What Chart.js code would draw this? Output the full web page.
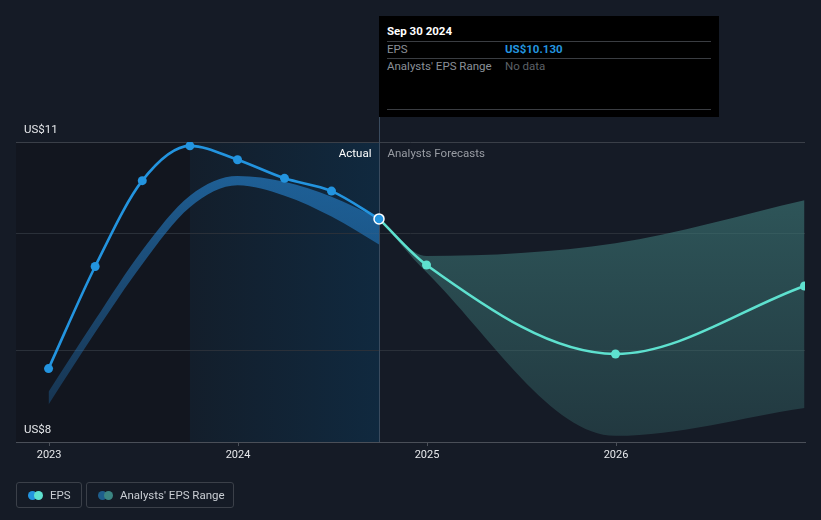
<!DOCTYPE html>
<html>
<head>
<meta charset="utf-8">
<script src="https://cdn.jsdelivr.net/npm/chart.js@4.4.1/dist/chart.umd.min.js"></script>
<style>
  body { margin: 0; background: #151b26; font-family: Roboto, "Noto Sans", sans-serif; }
  #wrap { position: relative; width: 821px; height: 520px; }
  #tip { position: absolute; left: 379px; top: 16px; width: 340px; height: 101px; background: #000; }
  #tip .t { position: absolute; left: 8px; font-size: 11.5px; line-height: 14px; white-space: nowrap; }
  #tip .hr { position: absolute; left: 8px; width: 324px; height: 1px; background: #3a3d42; }
  .lg { position: absolute; top: 482px; height: 26px; border: 1px solid #3b4049; border-radius: 3px; box-sizing: border-box; }
  .lg .dot { position: absolute; top: 8px; width: 9px; height: 9px; border-radius: 50%; }
  .lg .lab { position: absolute; top: 5px; font-size: 11.5px; color: #c9cdd3; white-space: nowrap; }
</style>
</head>
<body>
<div id="wrap">
  <canvas id="c" width="821" height="520"></canvas>
  <div id="tip">
    <div class="t" style="top:8px;color:#fff;font-weight:bold;">Sep 30 2024</div>
    <div class="hr" style="top:25px;"></div>
    <div class="t" style="top:26px;color:#8b9098;">EPS</div>
    <div class="t" style="top:26px;left:126px;color:#2394df;font-weight:bold;" id="tipval"></div>
    <div class="hr" style="top:42px;"></div>
    <div class="t" style="top:43px;color:#8b9098;">Analysts' EPS Range</div>
    <div class="t" style="top:43px;left:126px;color:#5c6067;">No data</div>
    <div class="hr" style="top:93px;"></div>
  </div>
  <div class="lg" style="left:16px;width:66px;">
    <div class="dot" style="left:11px;background:#2394df;"></div>
    <div class="dot" style="left:17px;background:#5ee1cf;"></div>
    <div class="lab" style="left:33px;">EPS</div>
  </div>
  <div class="lg" style="left:86px;width:148px;">
    <div class="dot" style="left:11px;background:#1e5e8c;"></div>
    <div class="dot" style="left:17px;background:#3b8582;"></div>
    <div class="lab" style="left:33px;">Analysts' EPS Range</div>
  </div>
</div>
<script>
// actual EPS, quarterly
var actualDates = ['2022-12-31', '2023-03-31', '2023-06-30', '2023-09-30', '2023-12-31', '2024-03-31', '2024-06-30', '2024-09-30'];
var actualEps = [8.84, 9.72, 10.46, 10.76, 10.64, 10.48, 10.37, 10.13];
// past analysts range band
var pastHigh = [8.64, 9.26, 9.86, 10.33, 10.50, 10.45, 10.32, 10.13];
var pastLow = [8.53, 9.15, 9.74, 10.23, 10.42, 10.33, 10.15, 9.91];
// forecast
var fcDates = ['2024-09-30', '2024-12-31', '2025-12-31', '2026-12-31'];
var fcEps = [10.13, 9.733, 8.966, 9.552];
var fcHigh = [10.13, 9.81, 9.92, 10.29];
var fcLow = [10.13, 9.67, 8.26, 8.50];
var yearTicks = [2023, 2024, 2025, 2026];

function toYear(s) {
  var d = new Date(s + 'T00:00:00Z');
  var y = d.getUTCFullYear();
  var start = Date.UTC(y, 0, 1), end = Date.UTC(y + 1, 0, 1);
  return y + (d - start) / (end - start);
}
function pts(dates, vals) {
  return dates.map(function (d, i) { return { x: toYear(d), y: vals[i] }; });
}

document.getElementById('tipval').textContent = 'US$' + actualEps[actualEps.length - 1].toFixed(3);

var lastX = toYear(actualDates[actualDates.length - 1]);
var bandStart = toYear('2023-09-30');

function grad(ctx, area, y0, y1, c0, c1) {
  var g = ctx.createLinearGradient(0, y0, 0, y1);
  g.addColorStop(0, c0);
  g.addColorStop(1, c1);
  return g;
}

var bgPlugin = {
  id: 'bg',
  beforeDraw: function (chart) {
    var ctx = chart.ctx, a = chart.chartArea, xs = chart.scales.x;
    ctx.save();
    ctx.fillStyle = '#151b26';
    ctx.fillRect(0, 0, chart.width, chart.height);
    var xb = xs.getPixelForValue(bandStart), xl = xs.getPixelForValue(lastX);
    ctx.fillStyle = '#12161f';
    ctx.fillRect(a.left, a.top, xb - a.left, a.bottom - a.top);
    var g = ctx.createLinearGradient(xb, 0, xl, 0);
    g.addColorStop(0, '#131e2b');
    g.addColorStop(1, '#10293f');
    ctx.fillStyle = g;
    ctx.fillRect(xb, a.top, xl - xb, a.bottom - a.top);
    ctx.restore();
  },
  afterDatasetsDraw: function (chart) {
    var ctx = chart.ctx, a = chart.chartArea, xs = chart.scales.x;
    var xl = Math.round(xs.getPixelForValue(lastX)) + 0.5;
    ctx.save();
    ctx.strokeStyle = '#3a4b5e';
    ctx.lineWidth = 1;
    ctx.beginPath();
    ctx.moveTo(xl, 117);
    ctx.lineTo(xl, a.bottom);
    ctx.stroke();
    ctx.font = '11.5px Roboto';
    ctx.textBaseline = 'middle';
    ctx.textAlign = 'right';
    ctx.fillStyle = '#ffffff';
    ctx.fillText('Actual', xl - 8, 154);
    ctx.textAlign = 'left';
    ctx.fillStyle = '#989ca3';
    ctx.fillText('Analysts Forecasts', xl + 8, 154);
    // redraw last actual point on top
    var meta = chart.getDatasetMeta(0);
    var p = meta.data[meta.data.length - 1];
    ctx.beginPath();
    ctx.arc(p.x, p.y, 5, 0, Math.PI * 2);
    ctx.fillStyle = '#2394df';
    ctx.fill();
    ctx.strokeStyle = '#ffffff';
    ctx.lineWidth = 1.5;
    ctx.stroke();
    ctx.restore();
  }
};

new Chart(document.getElementById('c'), {
  type: 'line',
  data: {
    datasets: [
      {
        label: 'EPS',
        data: pts(actualDates, actualEps),
        borderColor: '#2394df',
        backgroundColor: '#2394df',
        borderWidth: 2.6,
        pointRadius: 4.5,
        pointBorderWidth: 0,
        cubicInterpolationMode: 'monotone',
        order: 0
      },
      {
        label: 'EPS forecast',
        data: pts(fcDates, fcEps),
        borderColor: '#5ee1cf',
        backgroundColor: '#5ee1cf',
        borderWidth: 2.6,
        pointRadius: [0, 4.5, 4.5, 4.5],
        pointBorderWidth: 0,
        cubicInterpolationMode: 'monotone',
        order: 0
      },
      {
        label: 'past high',
        data: pts(actualDates, pastHigh),
        borderWidth: 0,
        pointRadius: 0,
        fill: false,
        cubicInterpolationMode: 'monotone',
        order: 2
      },
      {
        label: 'past low',
        data: pts(actualDates, pastLow),
        borderWidth: 0,
        pointRadius: 0,
        fill: '-1',
        backgroundColor: function (c) {
          var a = c.chart.chartArea;
          if (!a) return 'rgba(35,120,190,0.5)';
          return grad(c.chart.ctx, a, 170, 405, 'rgba(35,120,190,0.72)', 'rgba(35,120,190,0.32)');
        },
        cubicInterpolationMode: 'monotone',
        order: 2
      },
      {
        label: 'fc high',
        data: pts(fcDates, fcHigh),
        borderWidth: 0,
        pointRadius: 0,
        fill: false,
        cubicInterpolationMode: 'monotone',
        order: 2
      },
      {
        label: 'fc low',
        data: pts(fcDates, fcLow),
        borderWidth: 0,
        pointRadius: 0,
        fill: '-1',
        backgroundColor: function (c) {
          var a = c.chart.chartArea;
          if (!a) return 'rgba(62,123,122,0.5)';
          return grad(c.chart.ctx, a, 200, 440, 'rgba(62,123,122,0.6)', 'rgba(62,123,122,0.3)');
        },
        cubicInterpolationMode: 'monotone',
        order: 2
      }
    ]
  },
  options: {
    responsive: false,
    animation: false,
    events: [],
    layout: { padding: { left: 16, right: 16, top: 142, bottom: 48 } },
    plugins: { legend: { display: false }, tooltip: { enabled: false } },
    scales: {
      x: {
        type: 'linear',
        min: 2022.825,
        max: 2027.0,
        afterFit: function (s) { s.height = 30; },
        afterBuildTicks: function (s) { s.ticks = yearTicks.map(function (v) { return { value: v }; }); },
        ticks: {
          color: '#e6e8eb',
          font: { family: 'Roboto', size: 11 },
          padding: 3,
          maxRotation: 0,
          callback: function (v) { return String(v); }
        },
        grid: { drawOnChartArea: false, drawTicks: true, tickLength: 4, color: '#4a4f58' },
        border: { color: '#4a4f58', width: 1 }
      },
      y: {
        min: 8.207,
        max: 10.793,
        afterFit: function (s) { s.width = 0; },
        afterBuildTicks: function (s) {
          s.ticks = [{ value: 8.207 }, { value: 9 }, { value: 10 }, { value: 10.793 }];
        },
        ticks: {
          mirror: true,
          padding: 8,
          labelOffset: -12,
          color: '#e6e8eb',
          font: { family: 'Roboto', size: 11.5 },
          callback: function (v) {
            if (v === 10.793) return 'US$11';
            if (v === 8.207) return 'US$8';
            return '';
          }
        },
        grid: {
          drawTicks: false,
          color: function (c) {
            if (c.tick && c.tick.value === 10.793) return '#3a3f48';
            if (c.tick && c.tick.value === 8.207) return 'rgba(0,0,0,0)';
            return '#2a3039';
          }
        },
        border: { display: false }
      }
    }
  },
  plugins: [bgPlugin]
});
</script>
</body>
</html>
